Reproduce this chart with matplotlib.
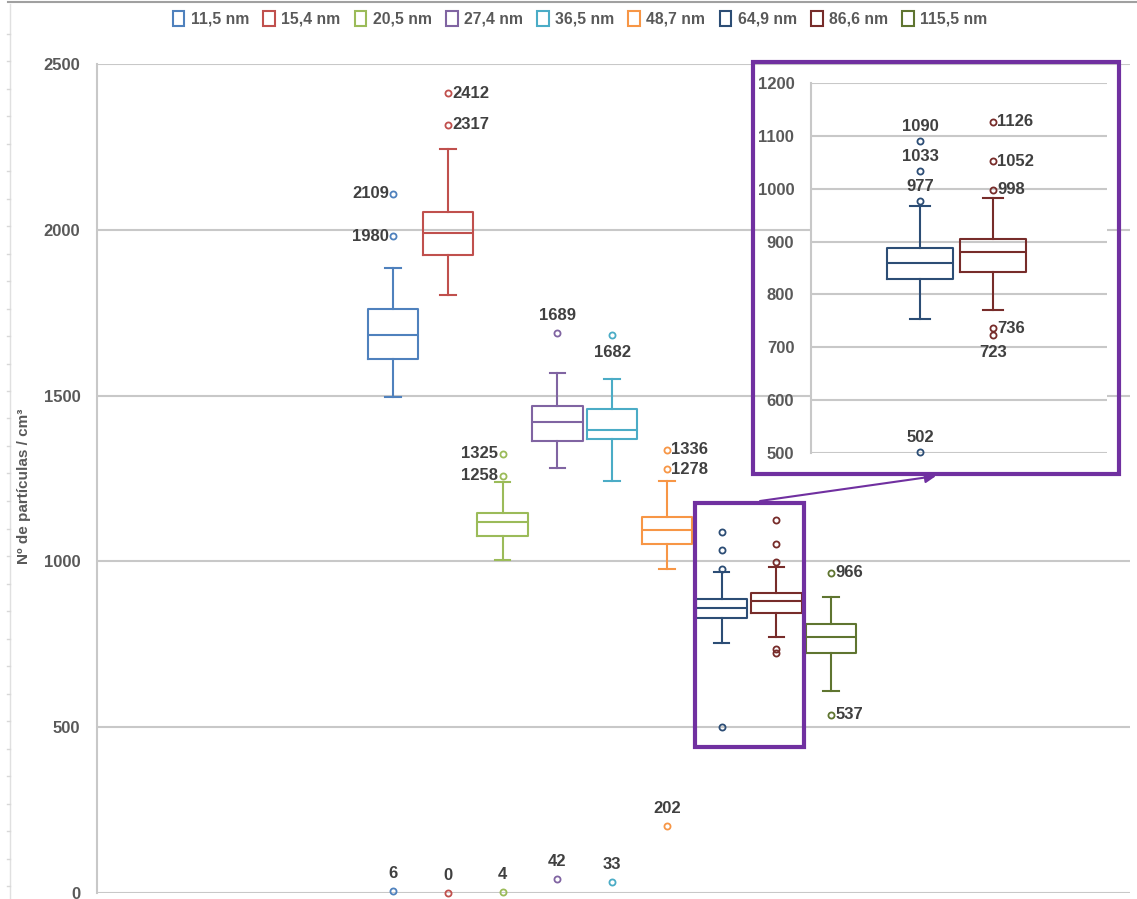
import matplotlib
matplotlib.use("Agg")
import matplotlib.pyplot as plt
from matplotlib.patches import Rectangle, Patch, FancyArrowPatch
from matplotlib.lines import Line2D
from matplotlib import font_manager

# ---- data -------------------------------------------------------------
sizes = ['11,5 nm', '15,4 nm', '20,5 nm', '27,4 nm', '36,5 nm',
         '48,7 nm', '64,9 nm', '86,6 nm', '115,5 nm']
q1 = [1610, 1924, 1078, 1364, 1369, 1052, 829, 843, 723]
medians = [1682, 1989, 1118, 1419, 1397, 1096, 860, 880, 773]
q3 = [1760, 2055, 1147, 1468, 1459, 1134, 887, 904, 810]
whisker_low = [1497, 1802, 1004, 1282, 1243, 976, 754, 771, 608]
whisker_high = [1884, 2244, 1238, 1567, 1550, 1243, 967, 983, 892]
outliers = [
    [2109, 1980, 6],
    [2412, 2317, 0],
    [1325, 1258, 4],
    [1689, 42],
    [1682, 33],
    [1336, 1278, 202],
    [1090, 1033, 977, 502],
    [1126, 1052, 998, 736, 723],
    [966, 537],
]
main_ticks = [0, 500, 1000, 1500, 2000, 2500]
zoom_ticks = [500, 600, 700, 800, 900, 1000, 1100, 1200]
zoom_series = [6, 7]

# ---- style ------------------------------------------------------------
colors = ['#4F81BD', '#C0504D', '#9BBB59', '#8064A2', '#4BACC6',
          '#F79646', '#2C4D75', '#772C2A', '#5F7530']
purple = '#7030A0'
grid_c = '#C8C8C8'
tick_c = '#595959'
label_c = '#404040'
num_size = 12

avail = {f.name for f in font_manager.fontManager.ttflist}
narrow = 'Liberation Sans Narrow' if 'Liberation Sans Narrow' in avail else 'Liberation Sans'
plt.rcParams['font.family'] = [narrow, 'DejaVu Sans']

W, H = 1137, 899
fig = plt.figure(figsize=(W / 100, H / 100), dpi=100)
fig.patch.set_facecolor('white')


def px(x, y):
    return (x / W, 1 - y / H)


def stats_for(i):
    return dict(med=medians[i], q1=q1[i], q3=q3[i],
                whislo=whisker_low[i], whishi=whisker_high[i],
                fliers=outliers[i], label=sizes[i])


def draw_boxes(ax, idx, positions, width, capw, ms):
    for i, pos in zip(idx, positions):
        c = colors[i]
        ax.bxp([stats_for(i)], positions=[pos], widths=width,
               capwidths=capw, showfliers=True, patch_artist=False,
               boxprops=dict(color=c, lw=1.5),
               medianprops=dict(color=c, lw=1.5),
               whiskerprops=dict(color=c, lw=1.5),
               capprops=dict(color=c, lw=1.5),
               flierprops=dict(marker='o', markersize=ms, markerfacecolor='none',
                               markeredgecolor=c, markeredgewidth=1.3,
                               linestyle='none', clip_on=False))


def style_axes(ax, ticks, pad):
    ax.set_yticks(ticks)
    ax.yaxis.grid(True, color=grid_c, lw=1.5)
    ax.set_axisbelow(True)
    for s in ('top', 'right', 'bottom'):
        ax.spines[s].set_visible(False)
    ax.spines['left'].set_color(grid_c)
    ax.spines['left'].set_linewidth(1.5)
    ax.tick_params(axis='y', length=0, pad=pad, labelsize=num_size,
                   labelcolor=tick_c)
    for t in ax.get_yticklabels():
        t.set_fontweight('bold')
    ax.set_xticks([])


# ---- main chart -------------------------------------------------------
ax = fig.add_axes([97 / W, 1 - 893 / H, (1130 - 97) / W, (893 - 64) / H])
positions = list(range(len(sizes)))
draw_boxes(ax, positions, positions, 0.92, 0.28, 4.4)
ax.set_xlim(-5.41, 13.46)
ax.set_ylim(0, 2500)
style_axes(ax, main_ticks, 12)
ax.set_ylabel('Nº de partículas / cm³', fontsize=11, fontweight='bold',
              color=tick_c)
ax.yaxis.set_label_coords(-0.064, 0.49)

# placement of value labels: series default and per-value overrides
side = {0: 'left', 1: 'right', 2: 'left', 3: 'above', 4: 'below',
        5: 'right', 8: 'right'}
low_above = {6, 0, 4, 42, 33, 202}
offsets = {'left': (-3, 0, 'right', 'center'),
           'right': (3, 0, 'left', 'center'),
           'above': (0, 7, 'center', 'bottom'),
           'below': (0, -7, 'center', 'top')}
for i, vals in enumerate(outliers):
    if i not in side:
        continue
    for v in vals:
        where = 'above' if v in low_above else side[i]
        dx, dy, ha, va = offsets[where]
        ax.annotate(str(v), (i, v), xytext=(dx, dy), textcoords='offset points',
                    ha=ha, va=va, fontsize=num_size, fontweight='bold',
                    color=label_c, annotation_clip=False)

# highlight around the two series shown enlarged
ax.add_patch(Rectangle((5.52, 440), 7.51 - 5.52, 1176 - 440, fill=False,
                       ec=purple, lw=3, clip_on=False, zorder=5))

# ---- enlarged view ----------------------------------------------------
fig.add_artist(Rectangle(px(753, 474), (1119 - 753) / W, (474 - 62) / H,
                         transform=fig.transFigure, fill=False, ec=purple,
                         lw=3, zorder=5))
axz = fig.add_axes([811 / W, 1 - 453.3 / H, (1107 - 811) / W,
                    (453.3 - 82.7) / H])
draw_boxes(axz, zoom_series, [0, 1], 0.91, 0.28, 4.4)
axz.set_xlim(-1.5, 2.57)
axz.set_ylim(500, 1200)
style_axes(axz, zoom_ticks, 12)

zoom_side = {6: 'above', 7: 'right'}
for pos, i in enumerate(zoom_series):
    for v in outliers[i]:
        where = 'below' if v == 723 else zoom_side[i]
        dx, dy, ha, va = offsets[where]
        if where == 'above':
            dy = 5
        axz.annotate(str(v), (pos, v), xytext=(dx, dy),
                     textcoords='offset points', ha=ha, va=va,
                     fontsize=num_size, fontweight='bold', color=label_c,
                     annotation_clip=False)

fig.add_artist(FancyArrowPatch(px(760, 501), px(936, 476),
                               transform=fig.transFigure, arrowstyle='-|>',
                               mutation_scale=16, color=purple, lw=1.5,
                               shrinkA=0, shrinkB=0, zorder=6))

# ---- legend -----------------------------------------------------------
handles = [Patch(facecolor='white', edgecolor=c, lw=1.5) for c in colors]
leg = fig.legend(handles, sizes, ncol=len(sizes), loc='upper center',
                 bbox_to_anchor=px(580, -3), frameon=False, fontsize=11.3,
                 handlelength=0.75, handleheight=1.1, handletextpad=0.4,
                 columnspacing=0.9, labelcolor=tick_c)
for t in leg.get_texts():
    t.set_fontweight('bold')

# page edge lines
fig.add_artist(Line2D([8 / W, 1], [1 - 2 / H] * 2, transform=fig.transFigure,
                      color='#A0A0A0', lw=1.5))
fig.add_artist(Line2D([10 / W] * 2, [0, 1 - 4 / H], transform=fig.transFigure,
                      color='#E0E0E0', lw=1))
for k in range(1, 33):
    y = 1 - (6 + 27.5 * k) / H
    fig.add_artist(Line2D([7 / W, 10 / W], [y, y], transform=fig.transFigure,
                          color='#D8D8D8', lw=1))

fig.savefig('out.png', dpi=100, facecolor='white')
